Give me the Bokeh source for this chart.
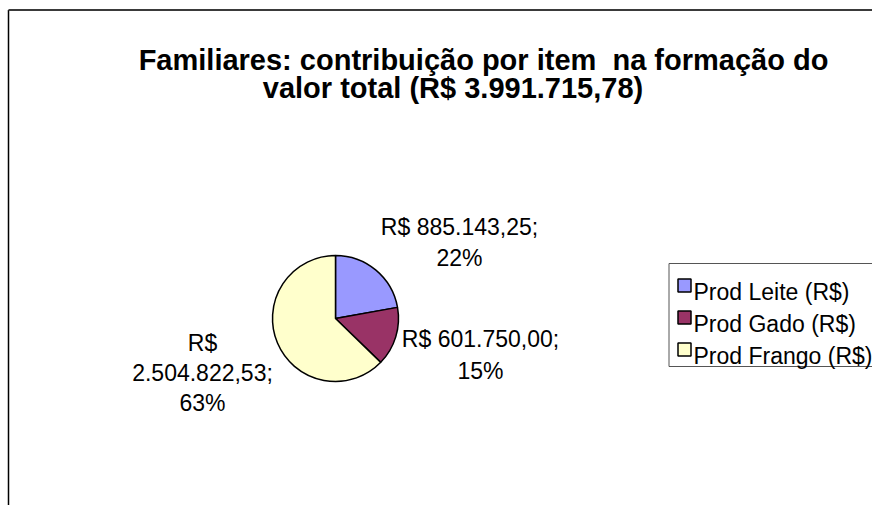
from bokeh.plotting import figure
from bokeh.models import Range1d, ColumnDataSource
from bokeh.core.properties import value
from bokeh.embed import file_html
from bokeh.resources import INLINE
import math

# ---- data ----
categories = ["Prod Leite (R$)", "Prod Gado (R$)", "Prod Frango (R$)"]
values = [885143.25, 601750.00, 2504822.53]
colors = ["#9999FF", "#993366", "#FFFFCC"]
title_lines = ["Familiares: contribuição por item  na formação do",
               "valor total (R$ 3.991.715,78)"]

# ---- layout (pixel coordinates measured from top-left of the picture) ----
W, H = 872, 505
FONT = "Liberation Sans"

def fx(px):
    return px

def fy(py):
    return H - py

def brl(v):
    s = f"{v:,.2f}"
    return s.replace(",", "X").replace(".", ",").replace("X", ".")

total = sum(values)

p = figure(width=W, height=H, x_range=Range1d(0, W), y_range=Range1d(0, H),
           x_axis_type=None, y_axis_type=None, output_backend="svg",
           toolbar_location=None, min_border=0)
p.grid.visible = False
p.outline_line_color = None
p.background_fill_color = "white"
p.border_fill_color = "white"

# chart area border (left and top visible)
p.segment(x0=[fx(8)], y0=[-5], x1=[fx(8)], y1=[fy(9.5)], line_color="black", line_width=1.5)
p.segment(x0=[fx(8)], y0=[fy(9.5)], x1=[W + 5], y1=[fy(9.5)], line_color="#3a3a3a", line_width=2)

# title (double space kept visible with a no-break space)
title_x = [fx(483), fx(452.5)]
title_y = [fy(59), fy(87)]
p.text(x=title_x, y=title_y, text=[t.replace("  ", " \u00a0") for t in title_lines],
       text_align="center", text_baseline="alphabetic", text_font=value(FONT),
       text_font_style="bold", text_font_size="29px", text_color="black")

# pie
cx, cy, R = fx(335), fy(318), 63
fracs = [v / total for v in values]
starts, ends = [], []
acc = 0.0
for f in fracs:
    starts.append(math.pi / 2 - acc * 2 * math.pi)
    acc += f
    ends.append(math.pi / 2 - acc * 2 * math.pi)
src = ColumnDataSource(dict(start=starts, end=ends, color=colors))
p.wedge(x=cx, y=cy, radius=R, radius_units="screen", start_angle="start",
        end_angle="end", direction="clock", fill_color="color",
        line_color="black", line_width=1.5, source=src)

# data labels
pct = [f"{round(f * 100)}%" for f in fracs]
label_lines = [
    [f"R$ {brl(values[0])};", pct[0]],
    [f"R$ {brl(values[1])};", pct[1]],
    ["R$", f"{brl(values[2])};", pct[2]],
]
label_cx = [459, 480, 202]
label_base = [[226, 257], [338.5, 370], [342, 372, 402]]
lx, ly, lt = [], [], []
for lines, xc, bases in zip(label_lines, label_cx, label_base):
    for t, b in zip(lines, bases):
        lx.append(fx(xc)); ly.append(fy(b)); lt.append(t)
p.text(x=lx, y=ly, text=lt, text_align="center", text_baseline="alphabetic",
       text_font=value(FONT), text_font_size="23px", text_color="black")

# legend
p.quad(left=[fx(668.5)], right=[W + 20], top=[fy(263)], bottom=[fy(366)],
       fill_color="white", line_color="#555555", line_width=1)
row_c = [285, 317, 349]
p.rect(x=[fx(684)] * 3, y=[fy(c) for c in row_c], width=13, height=13,
       width_units="screen", height_units="screen", fill_color=colors,
       line_color="black", line_width=1.5)
p.text(x=[fx(693)] * 3, y=[fy(c + 6.5) for c in row_c], text=categories,
       text_align="left", text_baseline="alphabetic", text_font=value(FONT),
       text_font_size="23px", text_color="black")

open("out.html", "w").write(file_html(p, INLINE))
